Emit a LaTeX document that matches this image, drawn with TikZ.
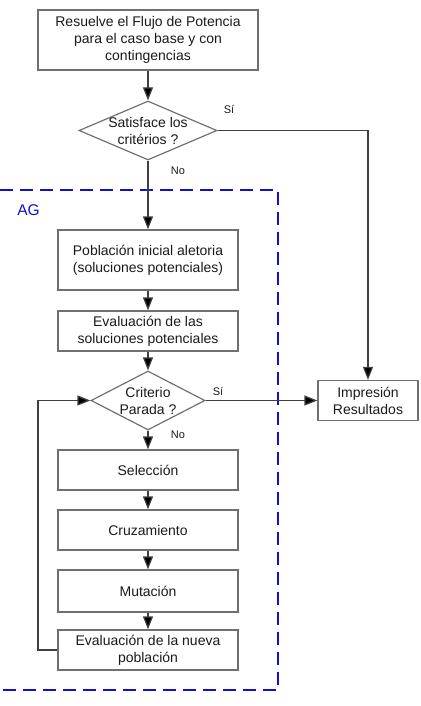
\documentclass[tikz,border=0pt]{standalone}
\usepackage{fontspec}
\setmainfont{Liberation Sans}
\usetikzlibrary{arrows.meta,shapes.geometric}
\definecolor{boxline}{HTML}{707070}
\definecolor{conline}{HTML}{404040}
\definecolor{txt}{HTML}{1A1A1A}
\definecolor{agblue}{HTML}{1010D0}
\tikzset{
  procbox/.style={draw=boxline, line width=1.2pt, rectangle, inner sep=0pt, align=center,
    text=txt, font=\fontsize{14}{17}\selectfont, minimum width=180pt},
  diabox/.style={draw=boxline, line width=1.2pt, diamond, inner sep=0pt},
  diatext/.style={align=center, text=txt, font=\fontsize{14}{17}\selectfont, inner sep=0pt},
  smalllab/.style={text=txt, font=\fontsize{11}{12}\selectfont, inner sep=0pt},
  conn/.style={draw=conline, line width=1.2pt},
  arr/.style={conn, -{Triangle[length=13pt,width=10pt,fill=black]}},
}
\begin{document}
\begin{tikzpicture}[x=1pt,y=-1pt]
\useasboundingbox (0,0) rectangle (420,706);
% top box
\node[procbox, minimum width=220pt, minimum height=60pt] (top) at (148,40)
  {Resuelve el Flujo de Potencia\\para el caso base y con\\contingencias};
% diamond 1
\node[diabox, minimum width=138pt, minimum height=59pt] (d1) at (148,130.5) {};
\node[diatext] (d1t) at (148,130.5) {Satisface los\\critérios ?};
\node[smalllab] (si1) at (229,110) {Sí};
\node[smalllab] (no1) at (178,171) {No};
% AG dashed region
\draw[agblue, line width=2.5pt, dash pattern=on 13pt off 7pt] (0,190) -- (278,190) -- (278,690) -- (0,690);
\node[text=agblue, font=\fontsize{15.5}{17}\selectfont, inner sep=0pt] (ag) at (28.5,210) {AG};
% boxes inside
\node[procbox, minimum height=60pt] (pob) at (148,260) {Población inicial aletoria\\(soluciones potenciales)};
\node[procbox, minimum height=40pt] (eval) at (148,331) {Evaluación de las\\soluciones potenciales};
\node[diabox, minimum width=114pt, minimum height=59pt] (d2) at (148,400.5) {};
\node[diatext] (d2t) at (148,400.5) {Criterio\\Parada ?};
\node[smalllab] (si2) at (218,391) {Sí};
\node[smalllab] (no2) at (178,435) {No};
\node[procbox, minimum height=40pt] (sel) at (148,470) {Selección};
\node[procbox, minimum height=40pt] (cru) at (148,530) {Cruzamiento};
\node[procbox, minimum height=42pt] (mut) at (148,591) {Mutación};
\node[procbox, minimum height=40pt] (evn) at (148,650) {Evaluación de la nueva\\población};
% output box
\node[procbox, minimum width=100pt, minimum height=40pt] (imp) at (368,400.5) {Impresión\\Resultados};
% connectors
\draw[arr] (top.south) -- (d1.north);
\draw[arr] (d1.south) -- (pob.north);
\draw[arr] (d1.east) -| (imp.north);
\draw[arr] (pob.south) -- (eval.north);
\draw[arr] (eval.south) -- (d2.north);
\draw[arr] (d2.east) -- (imp.west);
\draw[arr] (d2.south) -- (sel.north);
\draw[arr] (sel.south) -- (cru.north);
\draw[arr] (cru.south) -- (mut.north);
\draw[arr] (mut.south) -- (evn.north);
\coordinate (fb1) at (38,650);
\coordinate (fb2) at (38,400.5);
\draw[arr] (evn.west) -- (fb1) -- (fb2) -- (d2.west);
\end{tikzpicture}
\end{document}
